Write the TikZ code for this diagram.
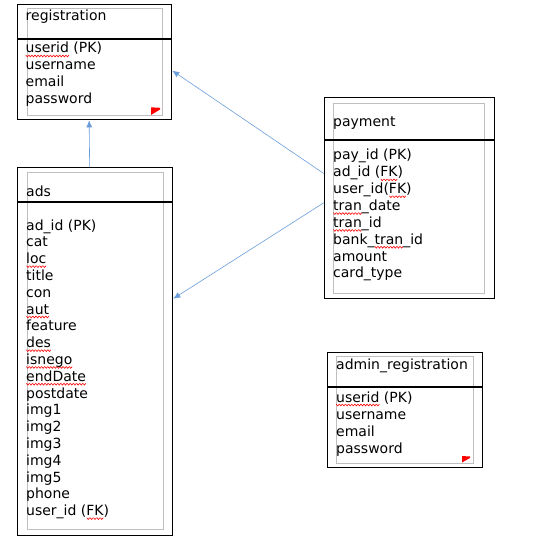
\documentclass[tikz,border=0pt]{standalone}
\usepackage{fontspec}
\setmainfont{DejaVu Sans}
\usetikzlibrary{arrows.meta}
\definecolor{linkblue}{rgb}{0.42, 0.62, 0.85}
\definecolor{framegray}{rgb}{0.75, 0.75, 0.75}
\newsavebox\wavebox
\newlength\wavelen
\newcommand\spell[1]{\settowidth\wavelen{#1}\rlap{\raisebox{-3pt}[0pt][0pt]{\hbox to\wavelen{\xleaders\copy\wavebox\hfill}}}#1}

\begin{document}
\sbox\wavebox{\begin{pgfpicture}
	\pgfsetlinewidth{0.6pt}\pgfsetstrokecolor{red}
	\pgfpathmoveto{\pgfpoint{0pt}{0.9pt}}
	\pgfpathlineto{\pgfpoint{1.5pt}{-0.9pt}}
	\pgfpathlineto{\pgfpoint{3pt}{0.9pt}}
	\pgfusepath{stroke}
	\pgfresetboundingbox
	\pgfpathrectangle{\pgfpoint{0pt}{0pt}}{\pgfpoint{3pt}{0pt}}
	\pgfusepath{use as bounding box}
\end{pgfpicture}}
\begin{tikzpicture}[x=1pt,y=-1pt,
	entity/.style={draw,line width=1.3pt,anchor=north west,inner sep=0},
	frame/.style={draw=framegray,line width=0.8pt,anchor=north west,inner sep=0},
	sep/.style={line width=2.2pt},
	row/.style={anchor=base west,inner sep=0,font=\fontsize{14}{17}\selectfont},
	link/.style={linkblue,line width=0.6pt,-{Latex[length=7pt,width=6pt]}}]
		\useasboundingbox (0,0) rectangle (540,540);
		
		% registration
		\node[entity,minimum width=154pt,minimum height=115pt] (registration) at (17,4) {};
		\node[frame,minimum width=135pt,minimum height=107pt] (registration-in) at (27,8) {};
		\draw[sep] (registration.west |- 0,39) -- (registration.east |- 0,39);
		\node[row] (registration-title) at (25.5,21) {registration};
		\foreach \field [count=\i from 0] in {\spell{userid} (PK),username,email,password}
			\node[row] (registration-\i) at ({25.5},{53+17*\i}) {\field};
		\fill[red] (151,107.3) -- (160,107.8) -- (160,109.5) -- (151,115) -- cycle;
		
		% payment
		\node[entity,minimum width=170pt,minimum height=201pt] (payment) at (324,97) {};
		\node[frame,minimum width=151pt,minimum height=190pt] (payment-in) at (333,103) {};
		\draw[sep] (payment.west |- 0,140) -- (payment.east |- 0,140);
		\node[row] (payment-title) at (333,127) {payment};
		\foreach \field [count=\i from 0] in {pay\_id (PK),ad\_id (\spell{FK}),user\_id(\spell{FK}),\spell{tran}\_date,\spell{tran}\_id,bank\_\spell{tran}\_id,amount,card\_type}
			\node[row] (payment-\i) at ({333},{160+16.85*\i}) {\field};
		
		% ads
		\node[entity,minimum width=155pt,minimum height=368pt] (ads) at (17,167) {};
		\node[frame,minimum width=136pt,minimum height=357pt] (ads-in) at (27,172) {};
		\draw[sep] (ads.west |- 0,202) -- (ads.east |- 0,202);
		\node[row] (ads-title) at (26,196) {ads};
		\foreach \field [count=\i from 0] in {ad\_id (PK),cat,\spell{loc},title,con,\spell{aut},feature,\spell{des},\spell{isnego},\spell{endDate},postdate,img1,img2,img3,img4,img5,phone,user\_id (\spell{FK})}
			\node[row] (ads-\i) at ({26},{230+16.8*\i}) {\field};
		
		% admin_registration
		\node[entity,minimum width=155pt,minimum height=115pt] (admin) at (327,352) {};
		\node[frame,minimum width=137pt,minimum height=107pt] (admin-in) at (336,356) {};
		\draw[sep] (admin.west |- 0,387) -- (admin.east |- 0,387);
		\node[row] (admin-title) at (336,369) {admin\_registration};
		\foreach \field [count=\i from 0] in {\spell{userid} (PK),username,email,password}
			\node[row] (admin-\i) at ({336},{402+17*\i}) {\field};
		\fill[red] (462,456) -- (470,456.5) -- (470,458) -- (462,462.5) -- cycle;
		
		% links
		\draw[link] ([xshift=-5.5pt]ads.north) -- ([xshift=-5.5pt]registration.south);
		\draw[link] ([yshift=24.5pt]payment.west) -- ([yshift=-8.5pt]registration.east);
		\draw[link] ([yshift=-4.5pt]payment.west) -- ([yshift=53pt]ads.east);
\end{tikzpicture}
\end{document}
